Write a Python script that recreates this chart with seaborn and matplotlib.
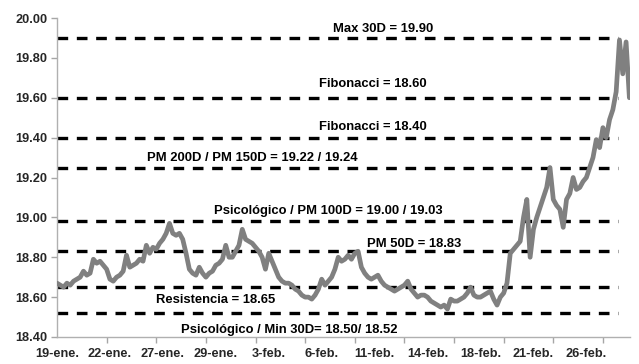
import numpy as np
import pandas as pd
import matplotlib
matplotlib.use("Agg")
import matplotlib.pyplot as plt
import seaborn as sns

# Tipo de cambio intradía (una observación por corte)
tipo_cambio = [
    18.67, 18.66, 18.65, 18.67, 18.66, 18.68, 18.69, 18.70, 18.73, 18.71,
    18.72, 18.79, 18.77, 18.78, 18.76, 18.74, 18.69, 18.68, 18.70, 18.71,
    18.73, 18.81, 18.75, 18.76, 18.77, 18.79, 18.78, 18.86, 18.82, 18.85,
    18.84, 18.87, 18.89, 18.92, 18.97, 18.92, 18.91, 18.92, 18.89, 18.82,
    18.74, 18.72, 18.71, 18.75, 18.72, 18.70, 18.72, 18.73, 18.76, 18.77,
    18.79, 18.86, 18.80, 18.80, 18.83, 18.86, 18.94, 18.89, 18.88, 18.87,
    18.85, 18.83, 18.80, 18.74, 18.82, 18.78, 18.74, 18.70, 18.68, 18.67,
    18.67, 18.66, 18.64, 18.63, 18.61, 18.60, 18.60, 18.59, 18.61, 18.64,
    18.69, 18.66, 18.68, 18.70, 18.74, 18.80, 18.78, 18.79, 18.81, 18.79,
    18.82, 18.83, 18.75, 18.72, 18.70, 18.69, 18.70, 18.71, 18.68, 18.66,
    18.65, 18.64, 18.63, 18.64, 18.65, 18.66, 18.68, 18.64, 18.62, 18.60,
    18.61, 18.61, 18.60, 18.58, 18.57, 18.56, 18.55, 18.56, 18.54, 18.59,
    18.58, 18.58, 18.59, 18.60, 18.62, 18.65, 18.61, 18.60, 18.60, 18.61,
    18.62, 18.63, 18.59, 18.56, 18.60, 18.62, 18.67, 18.82, 18.84, 18.86,
    18.88, 19.00, 19.09, 18.80, 18.94, 19.00, 19.05, 19.10, 19.15, 19.25,
    19.09, 19.06, 19.04, 18.95, 19.09, 19.12, 19.20, 19.14, 19.15, 19.18,
    19.20, 19.25, 19.30, 19.39, 19.35, 19.45, 19.40, 19.49, 19.54, 19.63,
    19.89, 19.72, 19.88, 19.60,
]

fechas = ["19-ene.", "22-ene.", "27-ene.", "29-ene.", "3-feb.", "6-feb.",
          "11-feb.", "14-feb.", "18-feb.", "21-feb.", "26-feb."]

# Niveles técnicos y sus etiquetas
niveles = [19.90, 19.60, 19.40, 19.25, 18.98, 18.83, 18.65, 18.52]
etiquetas = [
    "Max 30D = 19.90",
    "Fibonacci = 18.60",
    "Fibonacci = 18.40",
    "PM 200D / PM 150D = 19.22 / 19.24",
    "Psicológico / PM 100D = 19.00 / 19.03",
    "PM 50D = 18.83",
    "Resistencia = 18.65",
    "Psicológico / Min 30D= 18.50/ 18.52",
]

y_ticks = [18.40, 18.60, 18.80, 19.00, 19.20, 19.40, 19.60, 19.80, 20.00]

sns.set_style("white")
fuente = ["Liberation Sans", "DejaVu Sans"]
plt.rcParams["font.family"] = fuente

df = pd.DataFrame({"i": np.arange(len(tipo_cambio)), "tc": tipo_cambio})

fig = plt.figure(figsize=(6.39, 3.64), dpi=100)
ax = fig.add_axes([0.0892, 0.0742, 0.8968, 0.8763])

# Líneas de soporte / resistencia
x_fin_niveles = 169.5
ax.hlines(niveles, 0, x_fin_niveles, colors="black", linewidth=2.4,
          linestyles=[(0, (3.2, 2.6))], zorder=2)

sns.lineplot(data=df, x="i", y="tc", ax=ax, color="#808080", linewidth=3.4,
             zorder=3, legend=False)

# Posición de cada etiqueta: (x en categoría, desplazamiento vertical en pt)
pos_etiquetas = [(98.5, 4.0), (95.5, 7.5), (95.5, 5.5), (58.9, 4.8),
                 (81.9, 5.0), (107.9, 3.0), (48.0, -11.7), (70.1, -14.6)]
for nivel, texto, (xc, dy) in zip(niveles, etiquetas, pos_etiquetas):
    ax.annotate(texto, xy=(xc, nivel), xytext=(0, dy), textcoords="offset points",
                ha="center", va="baseline", fontsize=9.4, fontweight="bold",
                family=fuente, color="black", zorder=4)

ax.set_xlim(0, 173.2)
ax.set_ylim(18.40, 20.00)
ax.set_yticks(y_ticks)
ax.set_yticklabels([f"{v:.2f}" for v in y_ticks], fontsize=9.2, fontweight="bold")

n_cat_label = 16
n_cat_tick = 15
ax.set_xticks(np.arange(len(fechas)) * n_cat_label)
ax.set_xticklabels(fechas, fontsize=9.2, fontweight="bold")
ax.set_xticks(np.arange(0, 166, n_cat_tick), minor=True)
ax.tick_params(axis="x", which="major", length=0, pad=8)
ax.tick_params(axis="x", which="minor", length=4, width=1, color="#a6a6a6",
               direction="out", bottom=True)
ax.tick_params(axis="y", which="major", length=4, width=1, color="#a6a6a6",
               direction="out", left=True, pad=3)
ax.set_xlabel("")
ax.set_ylabel("")

for s in ["top", "right"]:
    ax.spines[s].set_visible(False)
for s in ["left", "bottom"]:
    ax.spines[s].set_color("#b0b0b0")
    ax.spines[s].set_linewidth(1)

fig.savefig("out.png", dpi=100)
